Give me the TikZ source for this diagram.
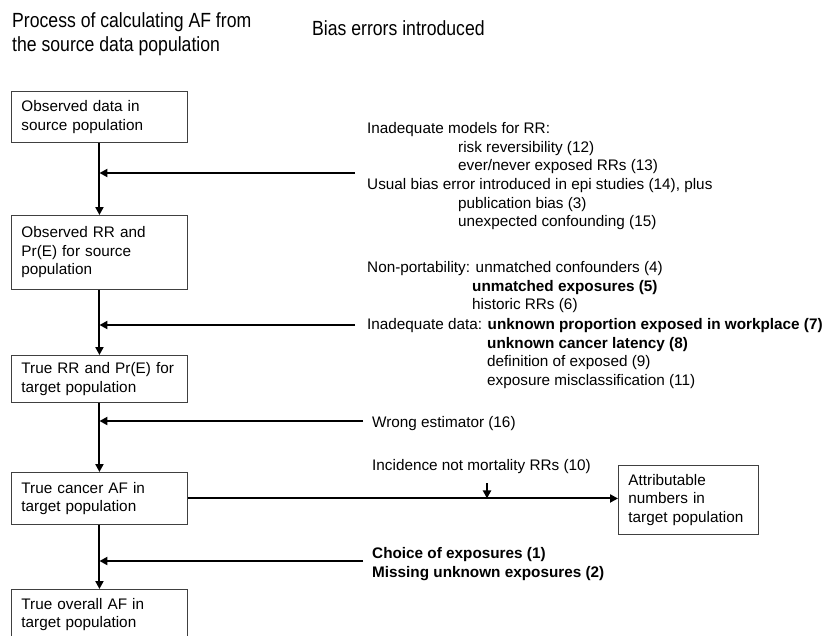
\documentclass[tikz,border=0pt]{standalone}
\usepackage{fontspec}
\setmainfont{Liberation Sans}
\newfontfamily\headfont[FakeStretch=0.86]{Liberation Sans}
\usetikzlibrary{arrows.meta,positioning}
\tikzstyle{stage} = [draw=black!75, line width=0.9pt, anchor=north west, text width=156pt, inner xsep=10pt, inner ysep=0pt, align=left]
\tikzstyle{note} = [anchor=base west, inner sep=0pt]
\tikzstyle{feed} = [line width=2pt, -{Triangle[length=8pt,width=8pt]}]

\begin{document}
\begin{tikzpicture}[x=1pt, y=-1pt, font=\fontsize{15.3}{18.5}\selectfont]
\useasboundingbox (0,0) rectangle (826,635);

% Headings
\node[note, font=\headfont\fontsize{20.5}{24}\selectfont] (head1) at (12,27) {Process of calculating AF from};
\node[note, font=\headfont\fontsize{20.5}{24}\selectfont] (head2) at (12,51) {the source data population};
\node[note, font=\headfont\fontsize{20.5}{24}\selectfont] (head3) at (312,35) {Bias errors introduced};

% Process boxes
\node[stage, minimum height=51pt] (obs) at (11,91) {Observed data in\\ source population};
\node[stage, minimum height=74pt] (rrsrc) at (11,215) {Observed RR and\\ Pr(E) for source\\ population};
\node[stage, minimum height=47pt] (rrtgt) at (11,355) {True RR and Pr(E) for\\ target population};
\node[stage, minimum height=52pt] (caf) at (11,472) {True cancer AF in\\ target population};
\node[stage, minimum height=50pt] (oaf) at (11,589) {True overall AF in\\ target population};
\node[stage, text width=120pt, minimum height=69pt] (attr) at (618,465) {Attributable\\ numbers in\\ target population};

% Main flow
\draw[feed] (obs) -- (rrsrc);
\draw[feed] (rrsrc) -- (rrtgt);
\draw[feed] (rrtgt) -- (caf);
\draw[feed] (caf) -- (oaf);
\draw[feed] (caf.east) -- (caf.east -| attr.west);

% Bias errors
\node[note] (models) at (367,133) {Inadequate models for RR:};
\node[note] (revers) at (458,152) {risk reversibility (12)};
\node[note] (evernv) at (458,170) {ever/never exposed RRs (13)};
\node[note] (usual) at (367,189) {Usual bias error introduced in epi studies (14), plus};
\node[note] (publ) at (458,208) {publication bias (3)};
\node[note] (confd) at (458,226) {unexpected confounding (15)};

\node[note] (portab) at (367,272) {Non-portability: unmatched confounders (4)};
\node[note] (unexp) at (472,291) {\bfseries unmatched exposures (5)};
\node[note] (histrr) at (472,309.5) {historic RRs (6)};
\node[note] (indata) at (367,329) {Inadequate data: \textbf{unknown proportion exposed in workplace (7)}};
\node[note] (latency) at (487,348) {\bfseries unknown cancer latency (8)};
\node[note] (defexp) at (487,366) {definition of exposed (9)};
\node[note] (miscl) at (487,385) {exposure misclassification (11)};

\node[note] (estim) at (372,427) {Wrong estimator (16)};
\node[note] (incid) at (372,470) {Incidence not mortality RRs (10)};
\node[note] (choice) at (372,558) {\bfseries Choice of exposures (1)};
\node[note] (missing) at (372,577) {\bfseries Missing unknown exposures (2)};

% Feeds into the flow
\coordinate (src1) at (355,173);
\coordinate (src2) at (355,325);
\coordinate (src3) at (363,421);
\coordinate (src4) at (363,561);
\coordinate (drop) at (487,483);
\draw[feed] (src1) -- (src1 -| obs.south);
\draw[feed] (src2) -- (src2 -| obs.south);
\draw[feed] (src3) -- (src3 -| obs.south);
\draw[feed] (src4) -- (src4 -| obs.south);
\draw[feed] (drop) -- (drop |- caf.east);
\end{tikzpicture}
\end{document}
